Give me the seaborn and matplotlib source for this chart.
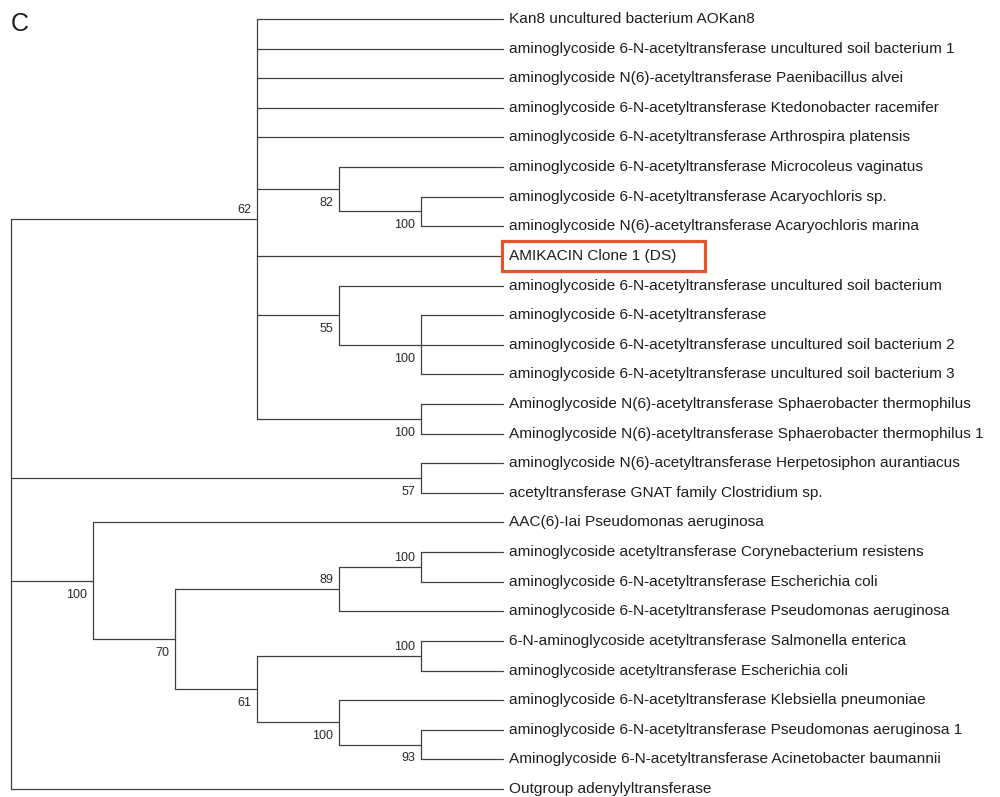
import matplotlib
matplotlib.use("Agg")
import matplotlib.pyplot as plt
from matplotlib.patches import Rectangle
import seaborn as sns
import pandas as pd

# leaf names, top to bottom
leaves = [
    "Kan8 uncultured bacterium AOKan8",
    "aminoglycoside 6-N-acetyltransferase uncultured soil bacterium 1",
    "aminoglycoside N(6)-acetyltransferase Paenibacillus alvei",
    "aminoglycoside 6-N-acetyltransferase Ktedonobacter racemifer",
    "aminoglycoside 6-N-acetyltransferase Arthrospira platensis",
    "aminoglycoside 6-N-acetyltransferase Microcoleus vaginatus",
    "aminoglycoside 6-N-acetyltransferase Acaryochloris sp.",
    "aminoglycoside N(6)-acetyltransferase Acaryochloris marina",
    "AMIKACIN Clone 1 (DS)",
    "aminoglycoside 6-N-acetyltransferase uncultured soil bacterium",
    "aminoglycoside 6-N-acetyltransferase",
    "aminoglycoside 6-N-acetyltransferase uncultured soil bacterium 2",
    "aminoglycoside 6-N-acetyltransferase uncultured soil bacterium 3",
    "Aminoglycoside N(6)-acetyltransferase Sphaerobacter thermophilus",
    "Aminoglycoside N(6)-acetyltransferase Sphaerobacter thermophilus 1",
    "aminoglycoside N(6)-acetyltransferase Herpetosiphon aurantiacus",
    "acetyltransferase GNAT family Clostridium sp.",
    "AAC(6)-Iai Pseudomonas aeruginosa",
    "aminoglycoside acetyltransferase Corynebacterium resistens",
    "aminoglycoside 6-N-acetyltransferase Escherichia coli",
    "aminoglycoside 6-N-acetyltransferase Pseudomonas aeruginosa",
    "6-N-aminoglycoside acetyltransferase Salmonella enterica",
    "aminoglycoside acetyltransferase Escherichia coli",
    "aminoglycoside 6-N-acetyltransferase Klebsiella pneumoniae",
    "aminoglycoside 6-N-acetyltransferase Pseudomonas aeruginosa 1",
    "Aminoglycoside 6-N-acetyltransferase Acinetobacter baumannii",
    "Outgroup adenylyltransferase",
]

# topology (leaf indices) with bootstrap support after each clade
clade_62 = "(0,1,2,3,4,(5,(6,7)100)82,8,(9,(10,11,12)100)55,(13,14)100)62"
clade_57 = "(15,16)57"
clade_100 = "(17,(((18,19)100,20)89,((21,22)100,(23,(24,25)93)100)61)70)100"
tree = "(" + clade_62 + "," + clade_57 + "," + clade_100 + ",26)"

highlight = "AMIKACIN Clone 1 (DS)"
panel = "C"


def parse(s):
    pos = 0

    def node():
        nonlocal pos
        if s[pos] == "(":
            pos += 1
            kids = [node()]
            while s[pos] == ",":
                pos += 1
                kids.append(node())
            pos += 1
            start = pos
            while pos < len(s) and s[pos] not in ",)":
                pos += 1
            return {"kids": kids, "support": s[start:pos]}
        start = pos
        while s[pos] not in ",)":
            pos += 1
        return {"leaf": int(s[start:pos])}

    return node()


def layout(n):
    if "leaf" in n:
        n["h"] = 0
        n["y"] = n["leaf"]
        return
    for k in n["kids"]:
        layout(k)
    n["h"] = 1 + max(k["h"] for k in n["kids"])
    n["y"] = (n["kids"][0]["y"] + n["kids"][-1]["y"]) / 2


root = parse(tree)
layout(root)
top = root["h"]

rows = []
supports = []


def walk(n, first=False):
    if "leaf" in n:
        return
    x = top - n["h"]
    seg = len(rows)
    rows.append((seg, x, n["kids"][0]["y"]))
    rows.append((seg, x, n["kids"][-1]["y"]))
    for i, k in enumerate(n["kids"]):
        seg = len(rows)
        rows.append((seg, x, k["y"]))
        rows.append((seg, top - k["h"], k["y"]))
        walk(k, first=(i == 0))
    if n["support"]:
        supports.append((x, n["y"], n["support"], first))


walk(root)
segs = pd.DataFrame(rows, columns=["seg", "x", "y"])

sns.set_theme(style="white")
plt.rcParams["font.family"] = ["Liberation Sans", "DejaVu Sans"]

fig = plt.figure(figsize=(10, 7.97), dpi=100)
ax = fig.add_axes([0, 0, 1, 1])
line_col = "#404040"
sns.lineplot(data=segs, x="x", y="y", units="seg", estimator=None, sort=False,
             color=line_col, linewidth=0.9, legend=False, ax=ax)

hl_text = None
for i, name in enumerate(leaves):
    t = ax.annotate(name, (top, i), xytext=(4.5, 0), textcoords="offset points",
                    ha="left", va="center", fontsize=11.1, color="#1e1e1e")
    if name == highlight:
        hl_text = t

for x, y, s, above in supports:
    dy = 6.5 if above else -10
    ax.annotate(s, (x, y), xytext=(-4, dy), textcoords="offset points",
                ha="right", va="center", fontsize=9, color="#2a2a2a")

fig.text(0.011, 0.985, panel, fontsize=18, va="top", ha="left", color="#1e1e1e")

ax.set_xlim(-11 / 82, 989 / 82)
ax.set_ylim((797 - 19) / 29.615, -19 / 29.615)
ax.axis("off")

# highlight frame around the clone label (pixel padding, wider on the right)
fig.canvas.draw()
bb = hl_text.get_window_extent()
cy = ax.transData.transform((top, leaves.index(highlight)))[1]
box = Rectangle((bb.x0 - 7, cy - 15), bb.width + 35, 30, transform=None,
                fill=False, edgecolor="#e8532b", linewidth=2.3, zorder=5)
fig.patches.append(box)

fig.savefig("out.png", dpi=100, facecolor="white")
